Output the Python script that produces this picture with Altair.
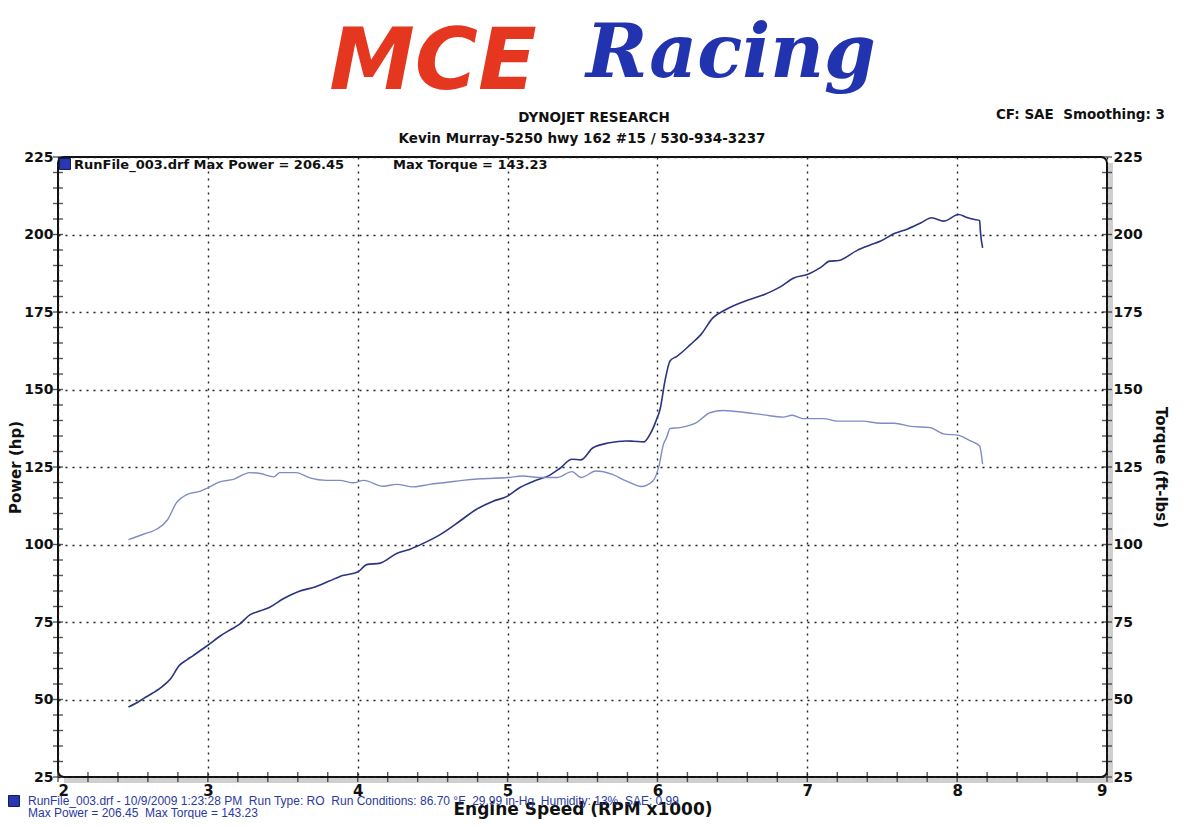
import pandas as pd
import altair as alt

# dyno run (rpm x1000)
POWER_RPM = [2.47, 2.52, 2.57, 2.63, 2.68, 2.75, 2.81, 2.86, 2.90, 2.95, 3.00, 3.08, 3.15, 3.21,
             3.28, 3.35, 3.41, 3.50, 3.61, 3.72, 3.81, 3.90, 4.00, 4.06, 4.15, 4.26, 4.35, 4.43,
             4.55, 4.68, 4.79, 4.90, 5.00, 5.08, 5.19, 5.28, 5.35, 5.43, 5.49, 5.57, 5.68, 5.79,
             5.84, 5.91, 5.95, 5.99, 6.02, 6.05, 6.085, 6.13, 6.22, 6.29, 6.37, 6.46, 6.60, 6.71,
             6.82, 6.91, 7.00, 7.09, 7.15, 7.21, 7.33, 7.42, 7.49, 7.58, 7.67, 7.76, 7.83, 7.91,
             8.01, 8.06, 8.11, 8.15, 8.155, 8.17]
POWER_HP = [47.6, 48.8, 50.3, 52.0, 53.6, 56.6, 61.0, 62.8, 64.1, 65.8, 67.5, 70.4, 72.5, 74.2,
            77.3, 78.6, 79.7, 82.4, 84.9, 86.4, 88.2, 90.0, 91.1, 93.5, 94.0, 97.1, 98.5, 100.2,
            103.2, 107.5, 111.3, 113.9, 115.6, 118.3, 120.7, 122.3, 124.6, 127.5, 127.3, 131.2, 132.8, 133.4,
            133.3, 133.1, 135.5, 139.8, 144.1, 152.7, 159.3, 160.7, 164.5, 167.7, 173.1, 175.9, 178.8, 180.6,
            183.1, 186.0, 187.1, 189.4, 191.4, 191.6, 194.8, 196.6, 197.9, 200.3, 201.8, 203.8, 205.4, 204.3,
            206.45, 205.6, 204.9, 204.5, 201.1, 195.7]

TORQUE_RPM = [2.47, 2.57, 2.66, 2.73, 2.79, 2.86, 2.95, 3.00, 3.08, 3.17, 3.28, 3.35, 3.44, 3.48,
              3.59, 3.68, 3.79, 3.88, 3.97, 4.04, 4.17, 4.26, 4.37, 4.48, 4.59, 4.70, 4.82, 5.00,
              5.10, 5.21, 5.33, 5.43, 5.49, 5.59, 5.70, 5.79, 5.82, 5.89, 5.97, 6.01, 6.04, 6.06,
              6.085, 6.15, 6.26, 6.35, 6.44, 6.60, 6.71, 6.84, 6.90, 6.97, 7.11, 7.20, 7.37, 7.49,
              7.58, 7.69, 7.82, 7.91, 8.01, 8.09, 8.15, 8.17]
TORQUE_FTLB = [101.6, 103.3, 105.0, 107.9, 113.4, 116.1, 117.2, 118.3, 120.2, 121.0, 123.2, 122.9, 121.8, 123.2,
               123.2, 121.5, 120.7, 120.7, 119.9, 120.7, 118.8, 119.4, 118.6, 119.4, 120.0, 120.7, 121.2, 121.6,
               122.1, 121.6, 121.6, 123.5, 121.6, 123.7, 122.6, 120.5, 119.9, 118.7, 120.5, 125.3, 132.3, 134.4,
               137.4, 137.7, 139.3, 142.5, 143.23, 142.5, 141.8, 141.1, 141.7, 140.6, 140.6, 139.8, 139.8, 139.1,
               139.1, 138.1, 137.7, 135.7, 135.2, 133.4, 131.8, 125.9]

X_MAJOR = [2, 3, 4, 5, 6, 7, 8, 9]
X_MINOR = [round(2 + 0.2 * i, 1) for i in range(36)]
Y_MAJOR = [25, 50, 75, 100, 125, 150, 175, 200, 225]
Y_MINOR = list(range(25, 230, 5))

W, H = 1049, 620
FONT = "DejaVu Sans"
POWER_COLOR = "#2b357f"
TORQUE_COLOR = "#7f8cc4"
SP = " \u00a0"  # double space that survives svg whitespace collapsing

x_scale = alt.Scale(domain=[2, 9], nice=False, zero=False)
y_scale = alt.Scale(domain=[25, 225], nice=False, zero=False)

axis_style = dict(
    ticks=False, domain=False, labelFont=FONT, labelFontWeight="bold", labelColor="#111",
    titleFont=FONT, titleFontWeight="bold", titleColor="#111",
    gridDash=[2, 5], gridColor="#222", gridWidth=1.4,
)

x_axis = alt.Axis(values=X_MAJOR, format="d", title="Engine Speed (RPM x1000)", grid=True,
                  labelFontSize=15, labelPadding=6, titleFontSize=17, titlePadding=3, **axis_style)
left_axis = alt.Axis(values=Y_MAJOR, format="d", title="Power (hp)", grid=True, orient="left",
                     labelFontSize=14, labelPadding=5, titleFontSize=15, titlePadding=0, **axis_style)
right_axis = alt.Axis(values=Y_MAJOR, format="d", title="Torque (ft-lbs)", grid=False, orient="right",
                      labelFontSize=14, labelPadding=6, titleFontSize=15, titlePadding=10, **axis_style)

power_df = pd.DataFrame({"rpm": POWER_RPM, "hp": POWER_HP})
torque_df = pd.DataFrame({"rpm": TORQUE_RPM, "tq": TORQUE_FTLB})

power = alt.Chart(power_df).mark_line(color=POWER_COLOR, strokeWidth=1.6, interpolate="monotone").encode(
    x=alt.X("rpm:Q", scale=x_scale, axis=x_axis),
    y=alt.Y("hp:Q", scale=y_scale, axis=left_axis),
)
torque = alt.Chart(torque_df).mark_line(color=TORQUE_COLOR, strokeWidth=1.4, interpolate="monotone").encode(
    x=alt.X("rpm:Q", scale=x_scale, axis=x_axis),
    y=alt.Y("tq:Q", scale=y_scale, axis=right_axis),
)

# cross-shaped ticks on the frame
x_ticks = alt.Chart(pd.DataFrame({"v": X_MINOR})).mark_tick(
    orient="vertical", size=10, thickness=1.4, color="#111"
).encode(x=alt.X("v:Q", scale=x_scale, axis=x_axis), y=alt.value(H))
left_ticks = alt.Chart(pd.DataFrame({"v": Y_MINOR})).mark_tick(
    orient="horizontal", size=10, thickness=1.4, color="#111"
).encode(y=alt.Y("v:Q", scale=y_scale, axis=None), x=alt.value(0))
right_ticks = alt.Chart(pd.DataFrame({"v": Y_MINOR})).mark_tick(
    orient="horizontal", size=10, thickness=1.4, color="#111"
).encode(y=alt.Y("v:Q", scale=y_scale, axis=None), x=alt.value(W))

# drop shadow of the frame
shadow_r = alt.Chart(pd.DataFrame({"a": [0]})).mark_rule(color="#cfcfcf", strokeWidth=5).encode(
    x=alt.value(W + 3.5), y=alt.value(6), y2=alt.value(H + 6))
shadow_b = alt.Chart(pd.DataFrame({"a": [0]})).mark_rule(color="#cfcfcf", strokeWidth=5).encode(
    x=alt.value(6), x2=alt.value(W + 6), y=alt.value(H + 3.5))


def label(text, x, y, **kw):
    return alt.Chart(pd.DataFrame({"t": [text]})).mark_text(**kw).encode(
        x=alt.value(x), y=alt.value(y), text="t:N")


def swatch(x, y):
    return alt.Chart(pd.DataFrame({"a": [0]})).mark_square(
        size=120, color="#2a38b0", stroke="#101a60", strokeWidth=1, opacity=1
    ).encode(x=alt.value(x), y=alt.value(y))


bold = dict(font=FONT, fontWeight="bold", color="#111", fontSize=13.5)
texts = [
    label("MCE", 375, -68, font=FONT, fontWeight="bold", fontStyle="italic", fontSize=86,
          color="#e5371f", align="center", baseline="alphabetic"),
    label("Racing", 528, -80, font="DejaVu Serif", fontWeight="bold", fontStyle="italic", fontSize=74,
          color="#2233b0", align="left", baseline="alphabetic"),
    label("DYNOJET RESEARCH", 536, -39, align="center", baseline="middle", **bold),
    label("Kevin Murray-5250 hwy 162 #15 / 530-934-3237", 524, -18, align="center", baseline="middle", **bold),
    label("CF: SAE" + SP + "Smoothing: 3", 1107, -42, align="right", baseline="middle", **bold),
    label("RunFile_003.drf Max Power = 206.45", 16, 8, align="left", baseline="middle", **dict(bold, fontSize=13)),
    label("Max Torque = 143.23", 335, 8, align="left", baseline="middle", **dict(bold, fontSize=13)),
    label("RunFile_003.drf - 10/9/2009 1:23:28 PM" + SP + "Run Type: RO" + SP + "Run Conditions: 86.70 °F"
          + SP + "29.99 in-Hg" + SP + "Humidity: 13%" + SP + "SAE: 0.99", -30, 644, align="left",
          baseline="middle", font="Liberation Sans", fontSize=12, color="#2a3aa0"),
    label("Max Power = 206.45" + SP + "Max Torque = 143.23", -30, 656, align="left", baseline="middle",
          font="Liberation Sans", fontSize=12, color="#2a3aa0"),
]

chart = alt.layer(
    shadow_r, shadow_b, power, torque, x_ticks, left_ticks, right_ticks,
    swatch(7, 7), swatch(-44, 644), *texts,
).resolve_scale(
    y="independent"
).properties(
    width=W, height=H, background="white",
    padding={"left": 50, "top": 149, "right": 81, "bottom": 42},
    autosize=alt.AutoSizeParams(type="none"),
).configure_view(
    stroke="#111", strokeWidth=2, cornerRadius=6,
)

chart.save("out.html", embed_options={"renderer": "svg", "actions": False})
